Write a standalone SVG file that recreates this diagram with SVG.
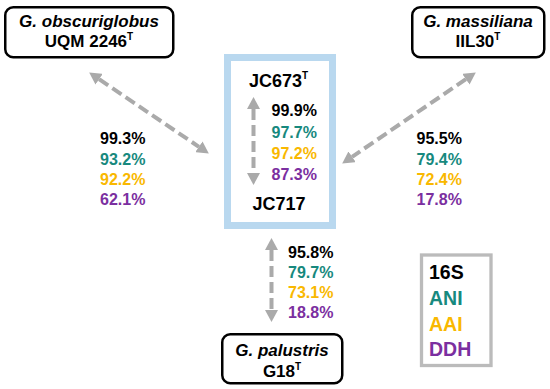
<svg xmlns="http://www.w3.org/2000/svg" width="550" height="389" viewBox="0 0 550 389">
<style>
text{font-family:"Liberation Sans",Arial,sans-serif;font-weight:bold;}
.nb{fill:#fff;stroke:#000;stroke-width:2.5;}
.nt{font-size:17px;fill:#000;text-anchor:middle;}
.it{font-style:italic;}
.sup{font-size:10px;}
.pc{font-size:16px;}
.lg{font-size:19.5px;}
.k{fill:#000;}
.ani{fill:#17897e;}
.aai{fill:#f9b800;}
.ddh{fill:#7b2fa0;}
.conn{fill:none;stroke:#aaaaaa;stroke-width:4;stroke-dasharray:11 5;}
</style>
<defs>
<marker id="ah" viewBox="0 -6.5 12 13" markerWidth="12" markerHeight="13" refX="0" refY="0" markerUnits="userSpaceOnUse" orient="auto-start-reverse">
<path d="M0,-6.5 L12,0 L0,6.5 z" fill="#aaaaaa"/>
</marker>
</defs>
<rect width="550" height="389" fill="#fff"/>
<g id="node-jc">
<rect x="227.5" y="57.5" width="105" height="168" fill="none" stroke="#b9d8ef" stroke-width="7"/>
<text x="249" y="87" font-size="18">JC673<tspan class="sup" dy="-8">T</tspan></text>
<text x="279" y="210" font-size="18" text-anchor="middle">JC717</text>
<text class="pc k" x="271.5" y="116">99.9%</text>
<text class="pc ani" x="271.5" y="137.5">97.7%</text>
<text class="pc aai" x="271.5" y="158.5">97.2%</text>
<text class="pc ddh" x="271.5" y="180">87.3%</text>
</g>
<g id="connectors">
<path class="conn" d="M99.1,79.2 L198.9,146.8" marker-start="url(#ah)" marker-end="url(#ah)"/>
<path class="conn" d="M465.9,79.2 L352.1,156.8" marker-start="url(#ah)" marker-end="url(#ah)"/>
<path class="conn" d="M253.5,109 L253.5,173" marker-start="url(#ah)" marker-end="url(#ah)"/>
<path class="conn" d="M271.5,250 L271.5,310" marker-start="url(#ah)" marker-end="url(#ah)"/>
</g>
<g id="node-obscuriglobus">
<rect class="nb" x="5.25" y="7.25" width="168" height="50" rx="8"/>
<text class="nt it" x="89" y="27">G. obscuriglobus</text>
<text class="nt" x="89" y="47">UQM 2246<tspan class="sup" dy="-7">T</tspan></text>
</g>
<g id="node-massiliana">
<rect class="nb" x="412.25" y="7.25" width="132" height="50" rx="8"/>
<text class="nt it" x="478" y="27">G. massiliana</text>
<text class="nt" x="478" y="47">IIL30<tspan class="sup" dy="-7">T</tspan></text>
</g>
<g id="node-palustris">
<rect class="nb" x="222.25" y="334.25" width="120" height="49" rx="8"/>
<text class="nt it" x="282" y="356">G. palustris</text>
<text class="nt" x="282" y="377">G18<tspan class="sup" dy="-7">T</tspan></text>
</g>
<g id="labels-left">
<text class="pc k" x="100" y="144">99.3%</text>
<text class="pc ani" x="100" y="164.5">93.2%</text>
<text class="pc aai" x="100" y="184.5">92.2%</text>
<text class="pc ddh" x="100" y="204.5">62.1%</text>
</g>
<g id="labels-right">
<text class="pc k" x="416.5" y="143.5">95.5%</text>
<text class="pc ani" x="416.5" y="164.5">79.4%</text>
<text class="pc aai" x="416.5" y="184.5">72.4%</text>
<text class="pc ddh" x="416.5" y="204.5">17.8%</text>
</g>
<g id="labels-bottom">
<text class="pc k" x="288" y="258">95.8%</text>
<text class="pc ani" x="288" y="278">79.7%</text>
<text class="pc aai" x="288" y="298">73.1%</text>
<text class="pc ddh" x="288" y="318">18.8%</text>
</g>
<g id="legend">
<rect x="421.5" y="255" width="69.5" height="110.5" fill="#fff" stroke="#bbbbbb" stroke-width="3.3"/>
<text class="lg k" x="429" y="279">16S</text>
<text class="lg ani" x="429" y="305">ANI</text>
<text class="lg aai" x="429" y="331">AAI</text>
<text class="lg ddh" x="429" y="356">DDH</text>
</g>
</svg>
